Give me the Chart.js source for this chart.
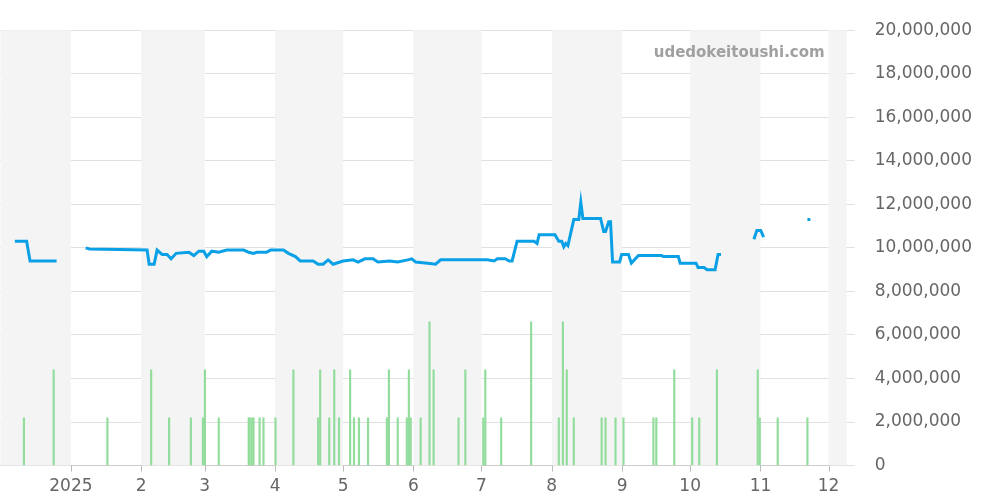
<!DOCTYPE html>
<html>
<head>
<meta charset="utf-8">
<script src="https://cdn.jsdelivr.net/npm/chart.js@4"></script>
<style>
  body { margin: 0; background: #fff; }
  #wrap { width: 1000px; height: 500px; position: relative; }
</style>
</head>
<body>
<div id="wrap"><canvas id="chart"></canvas></div>
<script>
// days counted from 2024-11-30 (day 1 = Dec 1 2024), prices in millions of yen
const priceDays = [7.3, 12.5, 13.5, 14, 25.7, null,
  38.5, 40.2, 65.6, 66.5, 68.7, 70, 72.2, 74.4, 76.2, 78.4, 84, 86.2, 88.4, 90.6, 91.9, 94.1, 97.2, 100.7, 108.2,
  110.4, 112.5, 113.9, 118.2, 120, 125.7, 127.9, 131, 133.1, 138.8, 141, 143.2, 145.4, 147.6, 152, 156.4, 158.6,
  161.6, 165.2, 167.3, 172.6, 176.1, 180.5, 182.3, 184, 189.3, 192.8, 195, 215.6, 218.6, 220, 223.5, 225.2, 226.5,
  228.7, 236.2, 237.5, 238.4, 245.4, 247.1, 248.4, 249.3, 250.2, 251.1, 252.4, 253.7, 255.9, 256.8, 257.7, 265.5,
  266.9, 267.7, 269.1, 269.9, 270.8, 273.9, 274.8, 277.8, 279.1, 282.2, 292.3, 293.2, 299.8, 300.6, 307.6, 308.5,
  311.1, 312.5, 316, 317.3, 318.6, null,
  333.1, 334.4, 336.1, 337.4, null,
  356.7, 358];
const priceValues = [10.3, 10.3, 9.7, 9.4, 9.4, null,
  10.0, 9.95, 9.9, 9.25, 9.25, 9.9, 9.7, 9.7, 9.5, 9.75, 9.8, 9.65, 9.85, 9.85, 9.6, 9.85, 9.8, 9.9, 9.9,
  9.8, 9.75, 9.8, 9.8, 9.9, 9.9, 9.75, 9.6, 9.4, 9.4, 9.25, 9.25, 9.45, 9.25, 9.4, 9.45, 9.35,
  9.5, 9.5, 9.35, 9.4, 9.35, 9.45, 9.5, 9.35, 9.3, 9.25, 9.45, 9.45, 9.4, 9.5, 9.5, 9.4, 9.4,
  10.3, 10.3, 10.2, 10.6, 10.6, 10.3, 10.3, 10.05, 10.2, 10.1, 10.7, 11.3, 11.3, 12.1, 11.35, 11.35,
  10.75, 10.75, 11.2, 11.2, 9.35, 9.35, 9.7, 9.7, 9.3, 9.65, 9.65, 9.6, 9.6, 9.3, 9.3, 9.1,
  9.1, 9.0, 9.0, 9.7, 9.7, null,
  10.4, 10.8, 10.8, 10.5, null,
  11.3, 11.3];

const volumeDays = [11.3, 24.4, 48.1, 67.4, 75.3, 84.9, 90.2, 91.1, 97.2, 110.4, 110.8, 111.7, 112.5, 115.2, 116.9,
  122.2, 130.1, 141, 141.9, 145.9, 148.1, 150.2, 155.1, 156.8, 159, 163, 171.3, 172.2, 176.1, 180.1, 181, 181.8,
  186.2, 190.1, 191.9, 202.9, 205.9, 213.8, 214.7, 221.7, 234.9, 247.1, 248.9, 250.6, 253.7, 266, 267.7, 272.1,
  275.6, 288.8, 290.1, 298, 305.9, 309, 316.8, 334.8, 335.7, 343.6, 356.7];
const volumeValues = [2.2, 4.4, 2.2, 4.4, 2.2, 2.2, 2.2, 4.4, 2.2, 2.2, 2.2, 2.2, 2.2, 2.2, 2.2,
  2.2, 4.4, 2.2, 4.4, 2.2, 4.4, 2.2, 4.4, 2.2, 2.2, 2.2, 2.2, 4.4, 2.2, 2.2, 4.4, 2.2,
  2.2, 6.6, 4.4, 2.2, 4.4, 2.2, 4.4, 2.2, 6.6, 2.2, 6.6, 4.4, 2.2, 2.2, 2.2, 2.2,
  2.2, 2.2, 2.2, 4.4, 2.2, 2.2, 4.4, 4.4, 2.2, 2.2, 2.2];

// month starts (day numbers) and their labels
const monthDays = [1, 32, 63, 91, 122, 152, 183, 213, 244, 275, 305, 336, 366];
const monthLabels = ["", "2025", "2", "3", "4", "5", "6", "7", "8", "9", "10", "11", "12"];

const bandPlugin = {
  id: "bands",
  beforeDatasetsDraw(chart) {
    const { ctx, chartArea, scales } = chart;
    ctx.save();
    ctx.fillStyle = "#f4f4f4";
    for (let i = 0; i < monthDays.length; i += 2) {
      const x0 = Math.max(scales.x.getPixelForValue(monthDays[i]), chartArea.left);
      const end = i + 1 < monthDays.length ? monthDays[i + 1] : scales.x.max;
      const x1 = Math.min(scales.x.getPixelForValue(end), chartArea.right);
      ctx.fillRect(x0, chartArea.top, x1 - x0, chartArea.bottom - chartArea.top);
    }
    ctx.restore();
  },
  afterDraw(chart) {
    const { ctx, chartArea, scales } = chart;
    ctx.save();
    // small month tick marks under the axis
    ctx.strokeStyle = "#bbb";
    ctx.lineWidth = 1;
    monthDays.slice(1).forEach(d => {
      const x = Math.round(scales.x.getPixelForValue(d)) + 0.5;
      ctx.beginPath();
      ctx.moveTo(x, chartArea.bottom);
      ctx.lineTo(x, chartArea.bottom + 6);
      ctx.stroke();
    });
    ctx.font = "bold 15px 'DejaVu Sans'";
    ctx.fillStyle = "#a0a0a0";
    ctx.textAlign = "right";
    ctx.textBaseline = "middle";
    ctx.fillText("udedokeitoushi.com", chartArea.right - 22, 53);
    ctx.restore();
  }
};

new Chart(document.getElementById("chart"), {
  data: {
    datasets: [
      {
        type: "line",
        data: priceDays.map((d, i) => ({ x: d === null ? priceDays[i - 1] + 0.5 : d, y: priceValues[i] })),
        borderColor: "#0aa0e6",
        borderWidth: 3,
        pointRadius: 0,
        tension: 0,
        spanGaps: false,
        order: 1
      },
      {
        type: "bar",
        data: volumeDays.map((d, i) => ({ x: d, y: volumeValues[i] })),
        backgroundColor: "#92dc9c",
        barThickness: 1.5,
        order: 2
      }
    ]
  },
  options: {
    responsive: true,
    maintainAspectRatio: false,
    animation: false,
    layout: { padding: { left: 0, right: 8, top: 30, bottom: 0 } },
    plugins: { legend: { display: false }, tooltip: { enabled: false } },
    scales: {
      x: {
        type: "linear",
        min: 0.75,
        max: 374,
        offset: false,
        grid: { display: false },
        border: { color: "#ccc" },
        afterBuildTicks: (axis) => { axis.ticks = monthDays.slice(1).map(v => ({ value: v })); },
        ticks: {
          autoSkip: false,
          maxRotation: 0,
          color: "#666",
          font: { size: 17, family: "DejaVu Sans" },
          callback: (v) => monthLabels[monthDays.indexOf(v)]
        }
      },
      y: {
        position: "right",
        min: 0,
        max: 20,
        grid: { color: "#e0e0e0", tickLength: 8 },
        border: { display: false },
        ticks: {
          stepSize: 2,
          padding: 20,
          color: "#666",
          font: { size: 17, family: "DejaVu Sans" },
          callback: (v) => (v * 1e6).toLocaleString("en-US")
        }
      }
    }
  },
  plugins: [bandPlugin]
});
</script>
</body>
</html>
